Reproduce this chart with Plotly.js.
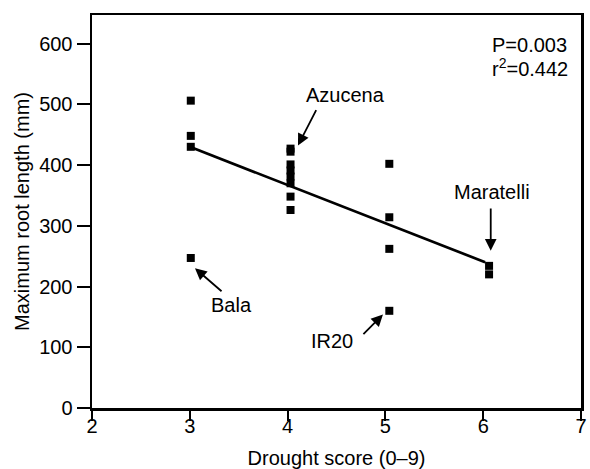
<!DOCTYPE html>
<html>
<head>
<meta charset="utf-8">
<script src="https://cdn.plot.ly/plotly-3.0.1.min.js"></script>
<style>html,body{margin:0;padding:0;background:#fff;}#chart{width:590px;height:469px;}</style>
</head>
<body>
<div id="chart"></div>
<script>
// Drought score (x) and maximum root length in mm (y)
var scoreX = [3.01, 3.01, 3.01, 3.01,
              4.03, 4.03, 4.03, 4.03, 4.03, 4.03, 4.03, 4.03,
              5.04, 5.04, 5.04, 5.04,
              6.06, 6.06];
var rootY  = [506, 448, 430, 247,
              427, 422, 401, 391, 381, 370, 348, 326,
              402, 314, 262, 160,
              234, 220];
// Regression line end points
var fitX = [3.0, 6.02];
var fitY = [430, 240];
var xTicks = [2, 3, 4, 5, 6, 7];
var yTicks = [0, 100, 200, 300, 400, 500, 600];
var labels = ['Azucena', 'Bala', 'IR20', 'Maratelli'];
var statText = ['P=0.003', 'r<sup>2</sup>=0.442'];

var font = {family: 'Liberation Sans, Arial, Helvetica, sans-serif', size: 20, color: '#000'};

var traces = [
  {x: fitX, y: fitY, mode: 'lines', line: {color: '#000', width: 2.7}, hoverinfo: 'skip'},
  {x: scoreX, y: rootY, mode: 'markers', marker: {symbol: 'square', size: 8, color: '#000'}}
];

function arrow(hx, hy, tx, ty) {
  return {x: hx, y: hy, ax: tx, ay: ty, xref: 'x', yref: 'y', axref: 'x', ayref: 'y',
          text: '', showarrow: true, arrowhead: 2, arrowsize: 1.3, arrowwidth: 1.8,
          arrowcolor: '#000', standoff: 0, startstandoff: 0};
}
function label(t, x, y, xa) {
  return {x: x, y: y, xref: 'x', yref: 'y', text: t, showarrow: false,
          xanchor: xa || 'center', yanchor: 'middle', font: font};
}

var layout = {
  width: 590, height: 469,
  margin: {l: 92, r: 9, t: 15, b: 61},
  paper_bgcolor: '#fff', plot_bgcolor: '#fff',
  showlegend: false,
  font: font,
  xaxis: {
    range: [2, 7], tickvals: xTicks, ticktext: xTicks.map(String),
    showgrid: false, zeroline: false, showline: true, mirror: true,
    linecolor: '#000', linewidth: 2.5, ticks: 'outside', ticklen: 10, tickwidth: 2,
    tickcolor: '#000', tickfont: font, ticklabelstandoff: -12,
    title: {text: 'Drought score (0–9)', font: font, standoff: 19}
  },
  yaxis: {
    range: [0, 647], tickvals: yTicks, ticktext: yTicks.map(String),
    showgrid: false, zeroline: false, showline: true, mirror: true,
    linecolor: '#000', linewidth: 2.5, ticks: 'outside', ticklen: 13, tickwidth: 2,
    tickcolor: '#000', tickfont: font,
    title: {text: 'Maximum root length (mm)', font: font, standoff: 4}
  },
  annotations: [
    label(labels[0], 4.587, 516),
    arrow(4.106, 432, 4.30, 493),
    label(labels[1], 3.43, 169),
    arrow(3.053, 230, 3.34, 190),
    label(labels[2], 4.454, 110),
    arrow(4.975, 154, 4.76, 119),
    label(labels[3], 6.085, 355),
    arrow(6.077, 259, 6.077, 331),
    label(statText[0], 6.07, 597, 'left'),
    label(statText[1], 6.07, 561, 'left')
  ]
};

Plotly.newPlot('chart', traces, layout, {displayModeBar: false, staticPlot: true});
</script>
</body>
</html>
